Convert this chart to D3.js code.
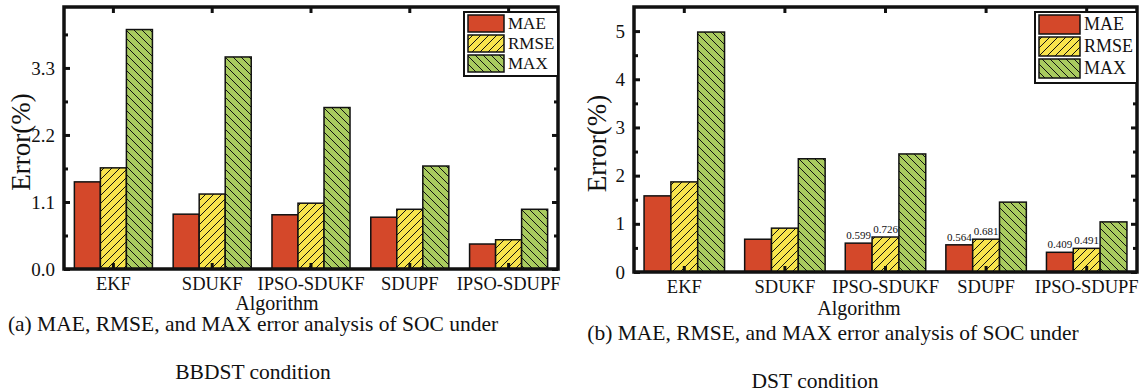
<!DOCTYPE html>
<html>
<head>
	<title>SOC error analysis</title>
	<style>
		body { margin: 0; background: #fff; }
		text { font-family: "Liberation Serif", "Times New Roman", serif; fill: #111; }
	</style>
</head>
<body>
	<svg id="canvas" width="1147" height="392"></svg>
	<script type="text/javascript" src="https://cdn.jsdelivr.net/npm/d3@7/dist/d3.min.js"></script>
	<script type="text/javascript">
		let algorithms = ["EKF", "SDUKF", "IPSO-SDUKF", "SDUPF", "IPSO-SDUPF"];
		let seriesNames = ["MAE", "RMSE", "MAX"];

		// (a) BBDST condition
		let maeA  = [1.43, 0.90, 0.89, 0.85, 0.41];
		let rmseA = [1.66, 1.23, 1.08, 0.98, 0.48];
		let maxA  = [3.93, 3.48, 2.65, 1.69, 0.98];
		let ticksA = [0, 1.1, 2.2, 3.3];
		let minorA = [0.55, 1.65, 2.75, 3.85];

		// (b) DST condition
		let maeB  = [1.58, 0.68, 0.599, 0.564, 0.409];
		let rmseB = [1.87, 0.91, 0.726, 0.681, 0.491];
		let maxB  = [4.98, 2.35, 2.45, 1.45, 1.04];
		let ticksB = [0, 1, 2, 3, 4, 5];
		let minorB = [0.5, 1.5, 2.5, 3.5, 4.5];
		// bars that carry a value label in (b)
		let labelledB = ["IPSO-SDUKF", "SDUPF", "IPSO-SDUPF"];

		let svg = d3.select("#canvas");
		let defs = svg.append("defs");

		function hatch(id, bg, dir) {
			let p = defs.append("pattern")
				.attr("id", id)
				.attr("patternUnits", "userSpaceOnUse")
				.attr("width", 8).attr("height", 8);
			p.append("rect").attr("width", 8).attr("height", 8).attr("fill", bg);
			let d = dir > 0 ? "M-2,2 l4,-4 M0,8 l8,-8 M6,10 l4,-4" : "M-2,6 l4,4 M0,0 l8,8 M6,-2 l4,4";
			p.append("path").attr("d", d).attr("stroke", "#111").attr("stroke-width", 1);
		}
		hatch("hatchY", "#f8e44c", 1);
		hatch("hatchG", "#a9cb5f", -1);

		let fills = { MAE: "#d4482a", RMSE: "url(#hatchY)", MAX: "url(#hatchG)" };

		function drawPanel(cfg) {
			let x0 = cfg.left, x1 = cfg.right, y0 = cfg.top, y1 = cfg.bottom;
			let g = svg.append("g");

			let x = d3.scaleBand().domain(algorithms).range([x0, x1]).paddingInner(cfg.pad).paddingOuter(cfg.pad / 2);
			let xs = d3.scaleBand().domain(seriesNames).range([0, x.bandwidth()]);
			let y = d3.scaleLinear().domain([0, cfg.ymax]).range([y1, y0]);

			let rows = [];
			algorithms.forEach(function(a, i) {
				rows.push({ alg: a, key: "MAE", v: cfg.mae[i] });
				rows.push({ alg: a, key: "RMSE", v: cfg.rmse[i] });
				rows.push({ alg: a, key: "MAX", v: cfg.max[i] });
			});

			g.selectAll("rect.bar").data(rows).enter()
				.append("rect")
					.attr("class", "bar")
					.attr("x", function(d){ return x(d.alg) + xs(d.key); })
					.attr("y", function(d){ return y(d.v); })
					.attr("width", xs.bandwidth())
					.attr("height", function(d){ return y(0) - y(d.v); })
					.attr("fill", function(d){ return fills[d.key]; })
					.attr("stroke", "#111")
					.attr("stroke-width", 1.5);

			if (cfg.labelled) {
				g.selectAll("text.val").data(rows.filter(function(d){
					return cfg.labelled.indexOf(d.alg) >= 0 && d.key !== "MAX";
				})).enter()
					.append("text")
						.attr("class", "val")
						.attr("x", function(d){ return x(d.alg) + xs(d.key) + xs.bandwidth() / 2; })
						.attr("y", function(d){ return y(d.v) - 4; })
						.attr("text-anchor", "middle")
						.attr("font-size", 11)
						.text(function(d){ return d.v.toFixed(3); });
			}

			// y axis left, ticks inward
			let yAxisL = g.append("g")
				.attr("transform", "translate(" + x0 + ",0)")
				.call(d3.axisRight(y).tickValues(cfg.ticks).tickSize(6).tickFormat(""));
			let yAxisR = g.append("g")
				.attr("transform", "translate(" + x1 + ",0)")
				.call(d3.axisLeft(y).tickValues(cfg.ticks).tickSize(6).tickFormat(""));
			[x0, x1].forEach(function(xx, k) {
				g.append("g")
					.attr("transform", "translate(" + xx + ",0)")
					.call((k === 0 ? d3.axisRight(y) : d3.axisLeft(y)).tickValues(cfg.minor).tickSize(4).tickFormat(""));
			});
			g.append("g")
				.attr("transform", "translate(" + x0 + ",0)")
				.call(d3.axisLeft(y).tickValues(cfg.ticks).tickSize(0).tickPadding(9).tickFormat(cfg.fmt))
				.call(function(s){ s.select(".domain").remove(); })
				.selectAll("text").attr("font-size", 19).attr("font-family", "Liberation Serif").attr("fill", "#111");

			// x axis bottom and top, ticks inward
			g.append("g")
				.attr("transform", "translate(0," + y1 + ")")
				.call(d3.axisTop(x).tickSize(6).tickFormat(""));
			g.append("g")
				.attr("transform", "translate(0," + y0 + ")")
				.call(d3.axisBottom(x).tickSize(6).tickFormat(""));
			g.append("g")
				.attr("transform", "translate(0," + y1 + ")")
				.call(d3.axisBottom(x).tickSize(0).tickPadding(8))
				.call(function(s){ s.select(".domain").remove(); })
				.selectAll("text").attr("font-size", 18.5).attr("font-family", "Liberation Serif").attr("fill", "#111");

			g.selectAll(".tick line").attr("stroke", "#111").attr("stroke-width", 3);
			g.selectAll(".domain").remove();

			// thick frame
			g.append("rect")
				.attr("x", x0).attr("y", y0)
				.attr("width", x1 - x0).attr("height", y1 - y0)
				.attr("fill", "none").attr("stroke", "#111").attr("stroke-width", 3.5);

			// legend
			let lg = g.append("g").attr("transform", "translate(" + cfg.legend[0] + "," + cfg.legend[1] + ")");
			lg.append("rect")
				.attr("x", 0).attr("y", 0)
				.attr("width", x1 - cfg.legend[0]).attr("height", cfg.legendH)
				.attr("fill", "#fff").attr("stroke", "#111").attr("stroke-width", 2);
			seriesNames.forEach(function(s, i) {
				lg.append("rect")
					.attr("x", 4).attr("y", 3 + i * cfg.legendStep)
					.attr("width", cfg.swatchW).attr("height", cfg.legendStep - 3)
					.attr("fill", fills[s]).attr("stroke", "#111").attr("stroke-width", 1.5);
				lg.append("text")
					.attr("x", cfg.swatchW + 8)
					.attr("y", 3 + i * cfg.legendStep + cfg.legendStep / 2 + 4)
					.attr("font-size", cfg.legendFont)
					.text(s);
			});

			// titles
			g.append("text")
				.attr("transform", "translate(" + cfg.ytitleX + "," + ((y0 + y1) / 2 + 4) + ") rotate(-90)")
				.attr("text-anchor", "middle")
				.attr("font-size", 27)
				.text("Error(%)");
			g.append("text")
				.attr("x", cfg.algX).attr("y", cfg.algY)
				.attr("text-anchor", "middle")
				.attr("font-size", 20)
				.text("Algorithm");
			g.append("text")
				.attr("x", cfg.capX).attr("y", cfg.capY)
				.attr("text-anchor", "middle")
				.attr("font-size", 21.5)
				.text(cfg.caption1);
			g.append("text")
				.attr("x", cfg.cap2X).attr("y", cfg.capY + 48)
				.attr("text-anchor", "middle")
				.attr("font-size", 21.5)
				.text(cfg.caption2);
		}

		drawPanel({
			left: 64, right: 558, top: 7, bottom: 269, ymax: 4.3, pad: 0.21,
			mae: maeA, rmse: rmseA, max: maxA, ticks: ticksA, minor: minorA,
			fmt: d3.format(".1f"),
			legend: [464, 12], legendH: 64, legendStep: 20, swatchW: 36, legendFont: 17,
			ytitleX: 30, algX: 277, algY: 310,
			capX: 253, capY: 331, cap2X: 253,
			caption1: "(a) MAE, RMSE, and MAX error analysis of SOC under",
			caption2: "BBDST condition"
		});

		drawPanel({
			left: 634, right: 1137, top: 7, bottom: 272, ymax: 5.5, pad: 0.2,
			mae: maeB, rmse: rmseB, max: maxB, ticks: ticksB, minor: minorB,
			fmt: d3.format("d"), labelled: labelledB,
			legend: [1035, 12], legendH: 71, legendStep: 22, swatchW: 41, legendFont: 18,
			ytitleX: 606, algX: 859, algY: 315,
			capX: 833, capY: 340, cap2X: 815,
			caption1: "(b) MAE, RMSE, and MAX error analysis of SOC under",
			caption2: "DST condition"
		});
	</script>
</body>
</html>
